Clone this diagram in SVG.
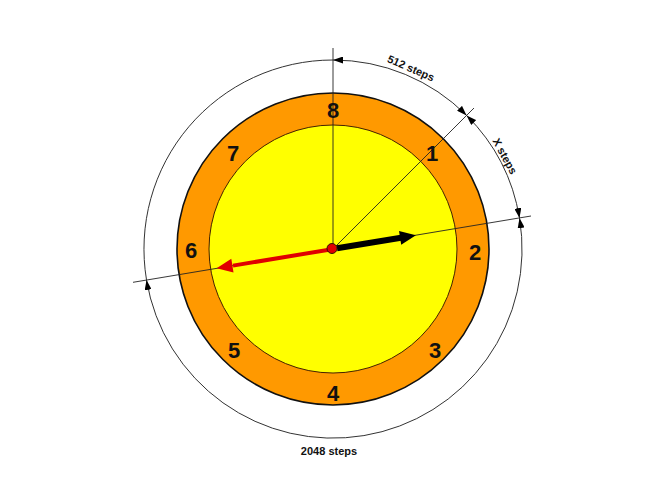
<svg xmlns="http://www.w3.org/2000/svg" width="666" height="500" viewBox="0 0 666 500">
<style>
.num{font-family:"Liberation Sans",Arial,sans-serif;font-weight:bold;font-size:22px;fill:#111;text-anchor:middle}
.lbl{font-family:"Liberation Sans",Arial,sans-serif;font-weight:bold;font-size:11px;fill:#111;text-anchor:middle;dominant-baseline:central}
.thin{fill:none;stroke:#222;stroke-width:0.9}
.arc{fill:none;stroke:#333;stroke-width:1}
</style>
<defs>
<marker id="ah" viewBox="0 0 10 7" refX="10" refY="3.5" markerWidth="10" markerHeight="7" markerUnits="userSpaceOnUse" orient="auto-start-reverse">
<path d="M0,0 L10,3.5 L0,7 z" fill="#000"/>
</marker>
</defs>
<rect width="666" height="500" fill="#fff"/>
<g id="dial">
<circle cx="333" cy="249" r="156" fill="#FF9900" stroke="#111" stroke-width="1.6"/>
<circle cx="333" cy="249" r="124" fill="#FFFF00" stroke="#442200" stroke-width="1"/>
</g>
<g id="connectors">
<path class="arc" d="M333,60 A189,189 0 0 1 466.6,115.4" marker-start="url(#ah)" marker-end="url(#ah)"/>
<path class="arc" d="M466.6,115.4 A189,189 0 0 1 519.5,218.1" marker-start="url(#ah)" marker-end="url(#ah)"/>
<path class="arc" d="M519.5,218.1 A189,189 0 1 1 146.5,279.9" marker-start="url(#ah)" marker-end="url(#ah)"/>
<path class="arc" d="M146.5,279.9 A189,189 0 0 1 333,60"/>
<line class="thin" x1="333" y1="249" x2="333" y2="48"/>
<line class="thin" x1="333" y1="249" x2="474" y2="108"/>
<line class="thin" x1="133" y1="282.3" x2="531" y2="216"/>
</g>
<g id="numbers">
<text class="num" x="333" y="118">8</text>
<text class="num" x="432" y="161">1</text>
<text class="num" x="475" y="260">2</text>
<text class="num" x="435" y="358">3</text>
<text class="num" x="333" y="401">4</text>
<text class="num" x="234" y="358">5</text>
<text class="num" x="191" y="258">6</text>
<text class="num" x="233" y="161">7</text>
</g>
<g id="labels">
<text class="lbl" transform="translate(411,68) rotate(23.6)">512 steps</text>
<text class="lbl" transform="translate(505,156) rotate(61.6)">X steps</text>
<text class="lbl" x="329" y="450.5">2048 steps</text>
</g>
<g id="black-hand">
<line x1="337" y1="248.3" x2="401" y2="237.7" stroke="#000" stroke-width="6"/>
<polygon points="415.9,235.3 401.2,244.8 399.0,231.0" fill="#000"/>
</g>
<g id="red-hand">
<line x1="329" y1="249.7" x2="233" y2="265.6" stroke="#E00000" stroke-width="4"/>
<polygon points="216.6,268.3 233.5,272.6 231.3,258.8" fill="#E00000"/>
</g>
<g id="center">
<circle cx="332" cy="248.5" r="5" fill="#E00000" stroke="#331100" stroke-width="1"/>
</g>
</svg>
